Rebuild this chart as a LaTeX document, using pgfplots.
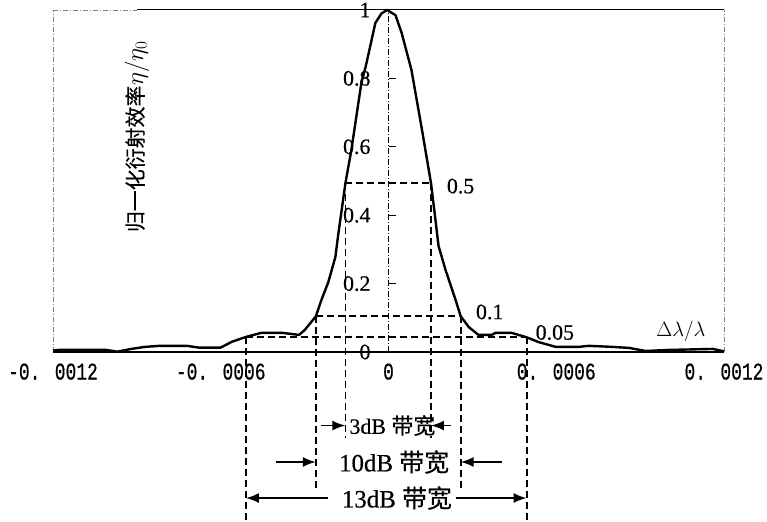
\documentclass[border=0pt]{standalone}
\usepackage{pgfplots}
\pgfplotsset{compat=1.18}
\usetikzlibrary{arrows.meta}
\usepackage{fontspec}
\setmainfont{Liberation Serif}[FakeBold=0.5]
\newfontfamily\cjk{Noto Sans CJK SC}[FakeBold=0.3]
\newfontfamily\tickfont{Liberation Mono}[FakeStretch=0.75,FakeBold=0.5]
\pgfplotstableread{
x y
-0.0012 0.004
-0.00118 0.006
-0.00101 0.006
-0.00097 0.001
-0.00092 0.009
-0.00087 0.015
-0.00082 0.018
-0.00072 0.018
-0.00068 0.013
-0.0006 0.013
-0.00056 0.030
-0.00051 0.044
-0.000455 0.056
-0.00038 0.056
-0.00032 0.050
-0.0003 0.064
-0.00026 0.104
-0.00024 0.152
-0.000215 0.205
-0.00019 0.278
-0.000179 0.348
-0.000154 0.494
-0.000133 0.590
-0.000097 0.787
-0.000082 0.833
-0.000047 0.962
-0.000025 0.990
-0.000005 1.000
0.000025 0.985
0.000047 0.933
0.000082 0.825
0.000118 0.658
0.000152 0.494
0.000163 0.420
0.000179 0.310
0.000204 0.240
0.00024 0.152
0.000258 0.105
0.000287 0.073
0.000322 0.050
0.000369 0.050
0.000383 0.056
0.00044 0.056
0.000494 0.043
0.000537 0.029
0.000598 0.015
0.00068 0.015
0.000716 0.018
0.0008 0.015
0.00086 0.012
0.00092 0.003
0.001 0.006
0.00116 0.009
0.0012 0.002
}\curve
\begin{document}
\begin{tikzpicture}
\useasboundingbox (-53bp,-170bp) rectangle (714bp,352bp);
\begin{axis}[
  at={(0,0)}, anchor=south west,
  scale only axis, width=671bp, height=342bp,
  xmin=-0.0012, xmax=0.0012, ymin=0, ymax=1,
  clip=false,
  axis line style={draw=none},
  xtick={-0.0012,-0.0006,0,0.0006,0.0012},
  xticklabels={-0. 0012,-0. 0006,0,0. 0006,0. 0012},
  scaled x ticks=false,
  xtick style={draw=none},
  xticklabel style={font=\tickfont\fontsize{24}{24}\selectfont, yshift=-8bp},
  ytick={0,0.2,0.4,0.6,0.8,1},
  yticklabels={0,0.2,0.4,0.6,0.8,1},
  ytick style={draw=none},
  yticklabel style={font=\fontsize{22}{22}\selectfont, xshift=321bp},
  ylabel={{\cjk 归一化衍射效率}{\fontsize{25}{25}\selectfont$\eta/\eta_0$}},
  ylabel style={at={(axis description cs:0.125,0.63)}, anchor=center, font=\fontsize{21}{21}\selectfont},
]
% frame
\draw[gray, dash pattern=on 5bp off 2bp on 1bp off 2bp, line width=0.7bp] (-0.0012,0) -- (-0.0012,1);
\draw[gray, dash pattern=on 5bp off 2bp on 1bp off 2bp, line width=0.7bp] (0.0012,0) -- (0.0012,1);
\draw[gray, dash pattern=on 5bp off 2bp on 1bp off 2bp, line width=0.7bp] (-0.0012,1) -- (-0.0009,1);
\draw[black, line width=1bp] (-0.0009,1) -- (0.0012,1);
\draw[black, line width=1.4bp] (-0.0012,0) -- (0.0012,0);
% y axis at centre
\draw[black, dash pattern=on 6bp off 2bp on 1bp off 2bp, line width=0.7bp] (0,0) -- (0,1);
\draw[black, line width=1bp] (0,0.2) -- ([xshift=7bp]0,0.2);
\draw[black, line width=1bp] (0,0.4) -- ([xshift=7bp]0,0.4);
\draw[black, line width=1bp] (0,0.6) -- ([xshift=7bp]0,0.6);
\draw[black, line width=1bp] (0,0.8) -- ([xshift=7bp]0,0.8);
% curve
\addplot[black, line width=2.4bp, line join=round] table {\curve};
% dashed guides
\draw[black, line width=1.8bp, dash pattern=on 7bp off 4bp] (-0.000154,0.494) -- (0.000152,0.494);
\draw[black, line width=1.8bp, dash pattern=on 7bp off 4bp] (-0.00026,0.105) -- (0.000258,0.105);
\draw[black, line width=1.8bp, dash pattern=on 7bp off 4bp] (-0.00051,0.043) -- (0.000494,0.043);
\draw[black, line width=1.8bp, dash pattern=on 7bp off 4bp] (-0.000154,0.494) -- (-0.000154,-0.251);
\draw[black, line width=1.8bp, dash pattern=on 7bp off 4bp] (0.000152,0.494) -- (0.000152,-0.251);
\draw[black, line width=1.8bp, dash pattern=on 7bp off 4bp] (-0.00026,0.105) -- (-0.00026,-0.409);
\draw[black, line width=1.8bp, dash pattern=on 7bp off 4bp] (0.000258,0.105) -- (0.000258,-0.409);
\draw[black, line width=1.8bp, dash pattern=on 7bp off 4bp] (-0.00051,0.043) -- (-0.00051,-0.497);
\draw[black, line width=1.8bp, dash pattern=on 7bp off 4bp] (0.000494,0.043) -- (0.000494,-0.497);
% arrows
\draw[black, line width=1.8bp, -{Latex[length=13bp,width=10bp]}] (-0.00024,-0.215) -- (-0.000154,-0.215);
\draw[black, line width=1.8bp, -{Latex[length=13bp,width=10bp]}] (0.000222,-0.215) -- (0.000152,-0.215);
\draw[black, line width=1.8bp, -{Latex[length=13bp,width=10bp]}] (-0.000401,-0.3216) -- (-0.00026,-0.3216);
\draw[black, line width=1.8bp, -{Latex[length=13bp,width=10bp]}] (0.000405,-0.3216) -- (0.000258,-0.3216);
\draw[black, line width=1.8bp, -{Latex[length=13bp,width=10bp]}] (-0.000215,-0.427) -- (-0.00051,-0.427);
\draw[black, line width=1.8bp, -{Latex[length=13bp,width=10bp]}] (0.00024,-0.427) -- (0.000494,-0.427);
% texts
\node[font=\fontsize{22}{22}\selectfont, inner sep=0pt] at (0.000014,-0.215) {3dB {\cjk 带宽}};
\node[font=\fontsize{25}{25}\selectfont, inner sep=0pt, fill=white] at (0.00002,-0.3216) {10dB {\cjk 带宽}};
\node[font=\fontsize{25}{25}\selectfont, inner sep=0pt, fill=white] at (0.00003,-0.427) {13dB {\cjk 带宽}};
\node[font=\fontsize{22}{22}\selectfont] at (0.000258,0.485) {0.5};
\node[font=\fontsize{22}{22}\selectfont] at (0.000362,0.117) {0.1};
\node[font=\fontsize{22}{22}\selectfont] at (0.000595,0.057) {0.05};
\node[font=\fontsize{22}{22}\selectfont] at (0.001046,0.061) {$\Delta\lambda/\lambda$};
\end{axis}
\end{tikzpicture}
\end{document}
